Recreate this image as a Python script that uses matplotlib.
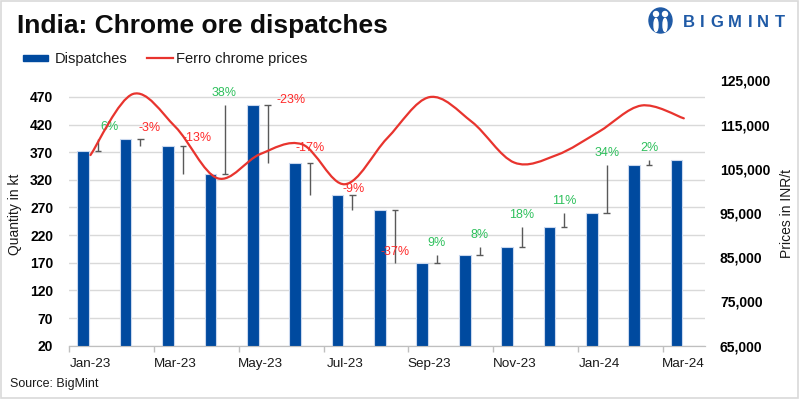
import matplotlib
matplotlib.use('Agg')
import matplotlib.pyplot as plt
import numpy as np
from matplotlib.path import Path
from matplotlib.patches import PathPatch, Rectangle, Ellipse

# data
months = ['Jan-23', 'Feb-23', 'Mar-23', 'Apr-23', 'May-23', 'Jun-23', 'Jul-23', 'Aug-23',
          'Sep-23', 'Oct-23', 'Nov-23', 'Dec-23', 'Jan-24', 'Feb-24', 'Mar-24']
dispatches = [373, 394, 381, 330, 455, 351, 293, 266, 169, 184, 198, 234, 260, 347, 355]
ferro_prices = [108100, 121900, 114500, 102850, 108300, 110500, 101500, 111900,
                121200, 115600, 106400, 108100, 113400, 119300, 116400]
pct_labels = ['6%', '-3%', '-13%', '38%', '-23%', '-17%', '-9%', '-37%',
              '9%', '8%', '18%', '11%', '34%', '2%']

# style
BLUE = '#004a9f'
RED = '#e8342e'
GREEN = '#2ec05c'
PCT_RED = '#ff2a2a'
W, H = 800, 399
# label nudges in pixels (dx right, dy down) relative to default spot above whisker
label_nudge = [(11, 0), (9, 1), (14, 4), (-1, 0), (23, 7), (0, -3), (1, 6), (0, 54),
               (-1, 0), (0, 0), (0, 0), (0, 0), (0, 0), (0, 0)]

plt.rcParams['font.family'] = ['Liberation Sans', 'DejaVu Sans']


def px(x, y):
    return x / W, 1 - y / H


def smooth_path(xs, ys):
    # Excel-like smoothed line: Catmull-Rom segments as cubic beziers
    pts = np.column_stack([xs, ys]).astype(float)
    n = len(pts)
    verts = [pts[0]]
    codes = [Path.MOVETO]
    for i in range(n - 1):
        p0 = pts[max(i - 1, 0)]
        p1 = pts[i]
        p2 = pts[i + 1]
        p3 = pts[min(i + 2, n - 1)]
        verts += [p1 + (p2 - p0) / 6, p2 - (p3 - p1) / 6, p2]
        codes += [Path.CURVE4] * 3
    return Path(verts, codes)


fig = plt.figure(figsize=(W / 100, H / 100), dpi=100)
left, top, right, bottom = 69.3, 80.3, 705, 345.7
ax = fig.add_axes([left / W, 1 - bottom / H, (right - left) / W, (bottom - top) / H])
ax2 = ax.twinx()

x = np.arange(len(months))
ax.bar(x - 0.17, dispatches, width=0.275, color=BLUE, edgecolor='#c9d8ee', linewidth=0.8, zorder=3)

# month-on-month change whiskers
wx = x[:-1] + 0.18
for i in range(len(months) - 1):
    a, b = dispatches[i], dispatches[i + 1]
    ax.vlines(wx[i], min(a, b), max(a, b), color='#595959', lw=1, zorder=4)
    ax.hlines(a, wx[i] - 0.075, wx[i] + 0.075, color='#595959', lw=1, zorder=4)

# percentage labels
for i, lab in enumerate(pct_labels):
    top_val = max(dispatches[i], dispatches[i + 1])
    dx, dy = label_nudge[i]
    col = PCT_RED if lab.startswith('-') else GREEN
    ax.annotate(lab, (wx[i], top_val), xytext=(dx * 0.72, (12 - dy) * 0.72),
                textcoords='offset points', ha='center', va='center',
                fontsize=9, color=col, zorder=6)

ax.set_xlim(-0.5, len(months) - 0.5)
ax.set_ylim(20, 500)
ax.set_yticks(np.arange(20, 471, 50))
ax.set_xticks(x[::2])
ax.set_xticklabels(months[::2], fontsize=9.7, color='#1a1a1a')
ax.set_xticks(np.arange(-0.5, len(months) - 1, 2), minor=True)
ax.tick_params(axis='x', which='major', length=0, pad=9)
ax.tick_params(axis='x', which='minor', length=4, color='#bfbfbf', width=1)
ax.tick_params(axis='y', length=0, pad=11.5, labelsize=10)
for t in ax.get_yticklabels():
    t.set_fontweight('bold')
ax.yaxis.grid(True, color='#d9d9d9', lw=1)
ax.set_axisbelow(True)

# ferro chrome price line (smoothed)
ax2.set_ylim(65000, 125000)
ax2.set_yticks(np.arange(65000, 125001, 10000))
ax2.set_yticklabels([f'{v:,}' for v in range(65000, 125001, 10000)])
ax2.tick_params(axis='y', length=0, pad=10.8, labelsize=10)
for t in ax2.get_yticklabels():
    t.set_fontweight('bold')
ax2.add_patch(PathPatch(smooth_path(x, ferro_prices), fill=False, edgecolor=RED,
                        lw=1.6, capstyle='round', zorder=5))

for a in (ax, ax2):
    for s in ('top', 'left', 'right'):
        a.spines[s].set_visible(False)
    a.spines['bottom'].set_color('#bfbfbf')

fig.text(*px(17, 33.5), 'India: Chrome ore dispatches', fontsize=19, fontweight='bold',
         color='#0d0d0d', ha='left', va='baseline')

# legend
fig.patches.append(Rectangle(px(22.7, 61), 25.6 / W, 5.5 / H, color=BLUE,
                             transform=fig.transFigure))
fig.text(*px(55, 58.5), 'Dispatches', fontsize=10.5, va='center', ha='left', color='#1a1a1a')
fig.lines.append(plt.Line2D([146.7 / W, 173.3 / W], [1 - 58.3 / H] * 2, color=RED, lw=1.6,
                            transform=fig.transFigure))
fig.text(*px(175.5, 58.5), 'Ferro chrome prices', fontsize=10.5, va='center', ha='left',
         color='#1a1a1a')

fig.text(*px(15, 214), 'Quantity in kt', rotation=90, fontsize=10, ha='center', va='center',
         color='#1a1a1a')
fig.text(*px(787, 213), 'Prices in INR/t', rotation=90, fontsize=10, ha='center', va='center',
         color='#1a1a1a')
fig.text(*px(10, 383.5), 'Source: BigMint', fontsize=9, ha='left', va='center', color='#1a1a1a')

# BigMint logo
LOGO = '#1f5aa6'
fig.patches.append(Ellipse(px(660.5, 20.5), 23 / W, 25 / H, color=LOGO, transform=fig.transFigure))
for hx in (656, 665):
    fig.patches.append(Ellipse(px(hx, 14), 5 / W, 5 / H, color='white', transform=fig.transFigure))
    fig.patches.append(Ellipse(px(hx, 25), 4 / W, 13 / H, color='white', transform=fig.transFigure))
letter_x = [683, 700.3, 709.9, 728.2, 747.5, 757.1, 774.4]
for ch, lx in zip('BIGMINT', letter_x):
    fig.text(*px(lx, 22.5), ch, fontsize=12, fontweight='bold', color=LOGO, ha='left', va='center')

# thin frame around the whole picture
fig.patches.append(Rectangle((0.001, 0.002), 0.997, 0.996, fill=False, edgecolor='#d9d9d9',
                             lw=1.2, transform=fig.transFigure))

fig.savefig('out.png', dpi=100)
